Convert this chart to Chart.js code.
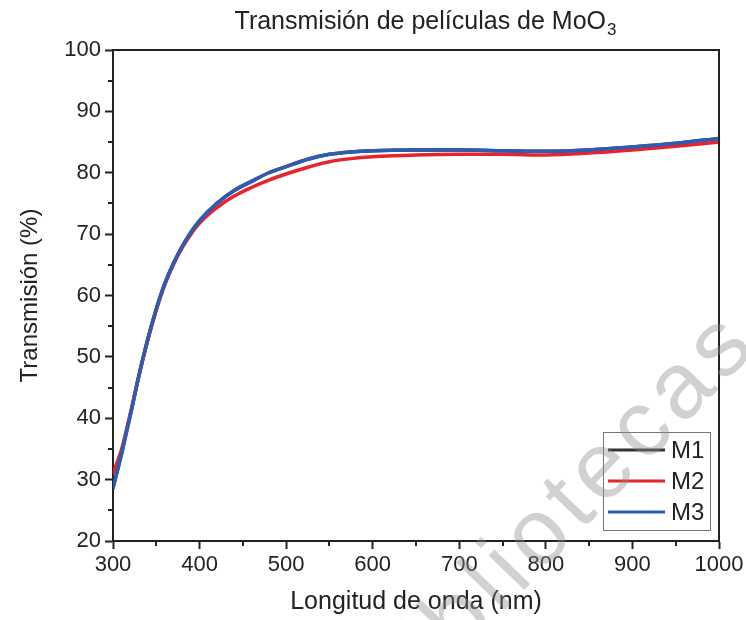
<!DOCTYPE html>
<html>
<head>
<meta charset="utf-8">
<title>Transmisión de películas de MoO3</title>
<script src="https://cdn.jsdelivr.net/npm/chart.js@4.4.1/dist/chart.umd.min.js"></script>
<style>
  html, body { margin: 0; padding: 0; background: #fff; }
  #wrap { width: 746px; height: 620px; }
</style>
</head>
<body>
<div id="wrap"><canvas id="transChart" width="746" height="620"></canvas></div>
<script>
/* Transmission spectra of the MoO3 films (wavelength in nm, T in %) */
const wavelengths = [300, 310, 320, 330, 340, 350, 360, 370, 380, 390, 400, 420, 440, 460, 480,
  500, 525, 550, 575, 600, 650, 700, 750, 800, 850, 900, 950, 1000];

const m1Values = [28.6, 34.3, 40.5, 47.0, 52.8, 57.8, 62.0, 65.3, 68.0, 70.3, 72.2, 75.0, 77.1, 78.6, 80.0,
  81.0, 82.2, 83.0, 83.4, 83.6, 83.7, 83.7, 83.6, 83.5, 83.7, 84.2, 84.8, 85.6];
const m2Values = [31.0, 35.0, 40.8, 47.0, 52.6, 57.6, 61.8, 65.1, 67.8, 70.0, 71.8, 74.3, 76.2, 77.6, 78.8,
  79.8, 80.9, 81.8, 82.3, 82.6, 82.9, 83.0, 83.0, 82.9, 83.2, 83.7, 84.3, 85.0];
const m3Values = [28.6, 34.3, 40.5, 47.0, 52.8, 57.8, 62.0, 65.3, 68.0, 70.3, 72.2, 75.0, 77.1, 78.6, 80.0,
  81.0, 82.2, 83.0, 83.4, 83.6, 83.7, 83.7, 83.6, 83.5, 83.7, 84.2, 84.8, 85.6];

const seriesLabels = ["M1", "M2", "M3"];
const xTickValues = [300, 400, 500, 600, 700, 800, 900, 1000];
const yTickValues = [20, 30, 40, 50, 60, 70, 80, 90, 100];

const FONT = "'Liberation Sans', Arial, sans-serif";
const INK = "#222";
const COLORS = { m1: "#333333", m2: "#e8232b", m3: "#2c5db6" };

function toPoints(values) {
  return wavelengths.map((w, i) => ({ x: w, y: values[i] }));
}

function series(label, values, color, order) {
  return {
    label,
    data: toPoints(values),
    borderColor: color,
    backgroundColor: color,
    borderWidth: 3.5,
    pointRadius: 0,
    cubicInterpolationMode: "monotone",
    order,
  };
}

// frame, minor ticks, boxed legend, title with subscript and the watermark
const plotDecor = {
  id: "plotDecor",
  beforeDraw(chart) {
    const { ctx, width, height } = chart;
    ctx.save();
    ctx.fillStyle = "#fff";
    ctx.fillRect(0, 0, width, height);
    ctx.restore();
  },
  afterDraw(chart) {
    const { ctx, chartArea: a, scales: { x, y } } = chart;
    ctx.save();

    // top and right sides of the box
    ctx.strokeStyle = INK;
    ctx.lineWidth = 2;
    ctx.beginPath();
    ctx.moveTo(a.left, a.top);
    ctx.lineTo(a.right, a.top);
    ctx.lineTo(a.right, a.bottom);
    ctx.stroke();

    // minor ticks halfway between the labelled ones
    ctx.beginPath();
    for (let i = 0; i < xTickValues.length - 1; i++) {
      const px = Math.round(x.getPixelForValue((xTickValues[i] + xTickValues[i + 1]) / 2));
      ctx.moveTo(px, a.bottom);
      ctx.lineTo(px, a.bottom + 5);
    }
    for (let i = 0; i < yTickValues.length - 1; i++) {
      const py = Math.round(y.getPixelForValue((yTickValues[i] + yTickValues[i + 1]) / 2));
      ctx.moveTo(a.left, py);
      ctx.lineTo(a.left - 5, py);
    }
    ctx.stroke();

    // legend box in the lower right corner
    const boxL = a.right - 116, boxR = a.right - 9;
    const boxT = a.bottom - 109, boxB = a.bottom - 11;
    ctx.fillStyle = "#fff";
    ctx.fillRect(boxL, boxT, boxR - boxL, boxB - boxT);
    ctx.strokeStyle = "#777";
    ctx.lineWidth = 1;
    ctx.strokeRect(boxL + 0.5, boxT + 0.5, boxR - boxL, boxB - boxT);
    ctx.font = "24px " + FONT;
    ctx.textBaseline = "middle";
    ctx.textAlign = "left";
    chart.data.datasets.forEach((ds, i) => {
      const ry = boxT + 18 + i * 31;
      ctx.strokeStyle = ds.borderColor;
      ctx.lineWidth = 3;
      ctx.beginPath();
      ctx.moveTo(boxL + 5, ry);
      ctx.lineTo(boxL + 62, ry);
      ctx.stroke();
      ctx.fillStyle = INK;
      ctx.fillText(ds.label, boxL + 68, ry + 1);
    });

    // chart title, MoO3 with a subscript 3
    const main = "Transmisión de películas de MoO";
    ctx.font = "25px " + FONT;
    const wMain = ctx.measureText(main).width;
    ctx.font = "17px " + FONT;
    const wSub = ctx.measureText("3").width;
    const tx = (a.left + a.right) / 2 + 9 - (wMain + wSub) / 2;
    ctx.fillStyle = INK;
    ctx.textBaseline = "alphabetic";
    ctx.font = "25px " + FONT;
    ctx.fillText(main, tx, 29);
    ctx.font = "17px " + FONT;
    ctx.fillText("3", tx + wMain + 1, 35);

    // faint diagonal watermark
    ctx.translate(761, 345);
    ctx.rotate(-46 * Math.PI / 180);
    ctx.font = "94px " + FONT;
    ctx.letterSpacing = "7px";
    ctx.textAlign = "right";
    ctx.fillStyle = "rgba(140, 140, 140, 0.4)";
    ctx.fillText("bibliotecas", 0, 0);

    ctx.restore();
  },
};

new Chart(document.getElementById("transChart"), {
  type: "line",
  data: {
    datasets: [
      series(seriesLabels[0], m1Values, COLORS.m1, 3),
      series(seriesLabels[1], m2Values, COLORS.m2, 2),
      series(seriesLabels[2], m3Values, COLORS.m3, 1),
    ],
  },
  options: {
    responsive: false,
    animation: false,
    devicePixelRatio: 1,
    layout: { padding: { top: 50, right: 27, left: 0, bottom: 0 } },
    scales: {
      x: {
        type: "linear",
        min: 300,
        max: 1000,
        afterBuildTicks: (s) => { s.ticks = xTickValues.map((v) => ({ value: v })); },
        afterFit: (s) => {
          s.height = 79;
          s.paddingLeft = 0;
          s.paddingRight = 0;
        },
        border: { color: INK, width: 2 },
        grid: { drawOnChartArea: false, drawTicks: true, tickLength: 8, tickWidth: 2, tickColor: INK },
        ticks: {
          color: INK,
          font: { family: FONT, size: 22 },
          padding: 3,
          maxRotation: 0,
          autoSkip: false,
          callback: (v) => String(v),
        },
        title: {
          display: true,
          text: "Longitud de onda (nm)",
          color: INK,
          font: { family: FONT, size: 25 },
          padding: { top: 0, bottom: 3 },
        },
      },
      y: {
        type: "linear",
        min: 20,
        max: 100,
        afterBuildTicks: (s) => { s.ticks = yTickValues.map((v) => ({ value: v })); },
        afterFit: (s) => {
          s.width = 113;
          s.paddingTop = 0;
          s.paddingBottom = 0;
        },
        border: { color: INK, width: 2 },
        grid: { drawOnChartArea: false, drawTicks: true, tickLength: 8, tickWidth: 2, tickColor: INK },
        ticks: { color: INK, font: { family: FONT, size: 22 }, padding: 4, callback: (v) => String(v) },
        title: {
          display: true,
          text: "Transmisión (%)",
          color: INK,
          font: { family: FONT, size: 24 },
          padding: { top: 16, bottom: 0 },
        },
      },
    },
    plugins: {
      legend: { display: false },
      tooltip: { enabled: false },
    },
  },
  plugins: [plotDecor],
});
</script>
</body>
</html>
